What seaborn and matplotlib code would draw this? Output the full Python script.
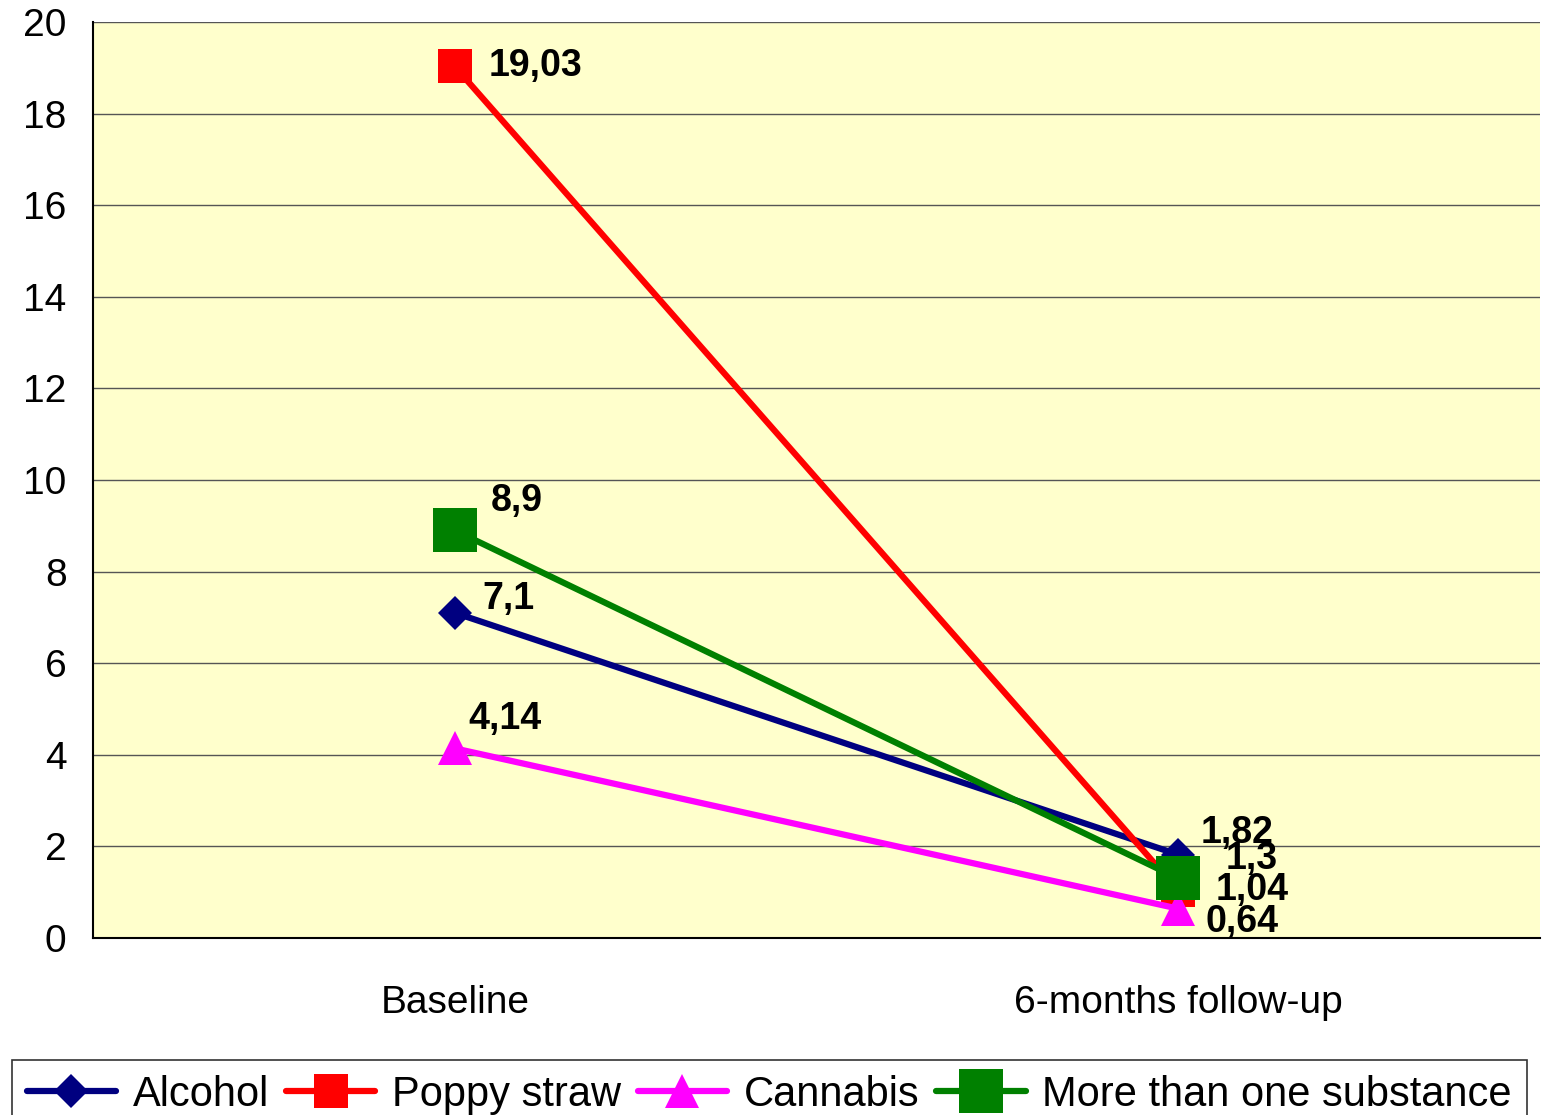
import seaborn as sns
import matplotlib.pyplot as plt
import pandas as pd

# data
timepoints = ["Baseline", "6-months follow-up"]
substances = ["Alcohol", "Poppy straw", "Cannabis", "More than one substance"]
alcohol = [7.1, 1.82]
poppy = [19.03, 1.04]
cannabis = [4.14, 0.64]
more_than_one = [8.9, 1.3]
labels = [["7,1", "1,82"], ["19,03", "1,04"], ["4,14", "0,64"], ["8,9", "1,3"]]

colors = ["#000080", "#FF0000", "#FF00FF", "#008000"]
markers = ["D", "s", "^", "s"]
msizes = [17, 24, 25, 31]
# label offsets in pixels (baseline, follow-up)
offsets = [[(28, 14), (22, 22)], [(34, 0), (37, 0)], [(14, 29), (27, -13)], [(36, 29), (47, 19)]]

rows = []
for name, vals in zip(substances, [alcohol, poppy, cannabis, more_than_one]):
    for i, v in enumerate(vals):
        rows.append({"substance": name, "pos": i, "value": v})
df = pd.DataFrame(rows)

sns.set_style("white")
plt.rcParams["font.family"] = ["Liberation Sans", "DejaVu Sans"]
plt.rcParams["text.color"] = "black"
plt.rcParams["xtick.color"] = "black"
plt.rcParams["ytick.color"] = "black"

fig = plt.figure(figsize=(15.42, 11.15), dpi=100)
ax = fig.add_axes([93 / 1542, 1 - 938 / 1115, 1447 / 1542, 916 / 1115])
ax.set_facecolor("#FFFFCC")

for k, name in enumerate(substances):
    sub = df[df.substance == name]
    sns.lineplot(data=sub, x="pos", y="value", ax=ax, color=colors[k], lw=4.5,
                 marker=markers[k], markersize=msizes[k], markeredgewidth=0,
                 label=name, zorder=3 + k)
    for i, (x, y) in enumerate(zip(sub.pos, sub.value)):
        ax.annotate(labels[k][i], (x, y), xytext=offsets[k][i], textcoords="offset pixels",
                    fontsize=27, fontweight="bold", va="center", ha="left", zorder=10)

ax.set_xlim(-0.5, 1.5)
ax.set_ylim(0, 20)
ax.set_yticks(range(0, 21, 2))
ax.set_xticks([-0.5, 0.5, 1.5])
ax.set_xticklabels([])
ax.set_xticks([0, 1], minor=True)
ax.set_xticklabels(timepoints, minor=True)
ax.tick_params(axis="x", which="major", length=10, width=1, direction="out")
ax.tick_params(axis="x", which="minor", length=0, pad=34, labelsize=28)
ax.tick_params(axis="y", length=11, width=1.2, direction="out", labelsize=28, pad=8)
ax.grid(axis="y", color="#555555", lw=1)
ax.set_axisbelow(True)
ax.set_xlabel("")
ax.set_ylabel("")

for s in ["top", "right"]:
    ax.spines[s].set_visible(False)
ax.spines["left"].set_color("black")
ax.spines["left"].set_linewidth(1.5)
ax.spines["bottom"].set_color("black")
ax.spines["bottom"].set_linewidth(1.5)

handles, names = ax.get_legend_handles_labels()
ax.get_legend().remove()
leg = fig.legend(handles, names, loc="upper left", ncol=4,
                 bbox_to_anchor=(12 / 1542, 1 - 1060 / 1115),
                 borderaxespad=0, fancybox=False, frameon=True, handlelength=2.15,
                 handletextpad=0.4, columnspacing=0.4, borderpad=0.35,
                 prop={"size": 30})
leg.get_frame().set_edgecolor("black")
leg.get_frame().set_linewidth(1.2)

fig.savefig("out.png", dpi=100)
